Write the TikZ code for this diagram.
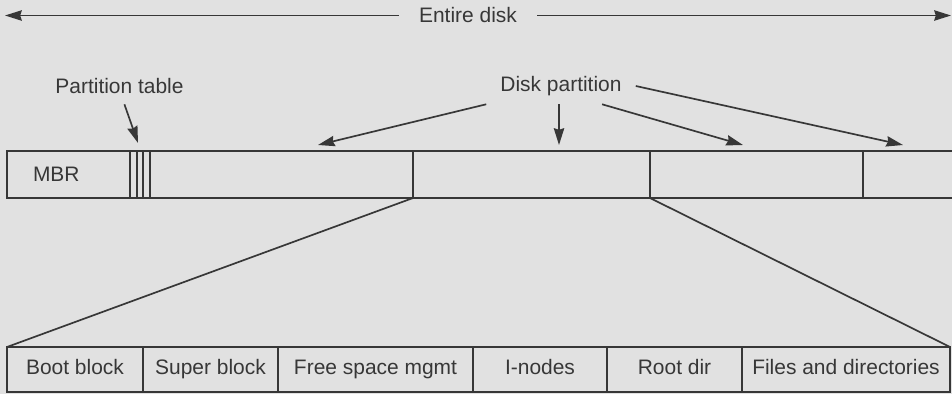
\documentclass[tikz,border=0pt]{standalone}
\usepackage{fontspec}
\setmainfont{Liberation Sans}
\usetikzlibrary{arrows.meta}
\definecolor{paper}{RGB}{225,225,225}
\definecolor{ink}{RGB}{55,55,55}

\begin{document}
\begin{tikzpicture}[
    x=0.025cm, y=-0.025cm,
    font=\fontsize{14.9}{18}\selectfont,
    color=ink,
    slot/.style={
        draw,
        line width=1.3pt,
        inner sep=0pt,
        outer sep=0pt,
        minimum width=#1*0.025cm,
        minimum height=1.175cm
    },
    block/.style={
        draw,
        line width=1.3pt,
        inner sep=0pt,
        outer sep=0pt,
        text height=0.75em,
        text depth=0em,
        minimum width=#1*0.025cm,
        minimum height=1.125cm
    },
    note/.style={inner sep=0pt, minimum height=0.9cm},
    pointer/.style={line width=1.2pt, -{Stealth[length=0.42cm,width=0.26cm,inset=0.04cm]}}
]

\fill[paper] (0,0) rectangle (952,394);
\useasboundingbox (0,0) rectangle (952,394);

% Whole disk
\node[inner xsep=0.5cm] (disk) at (468,15.5) {Entire disk};
\coordinate (diskL) at (5,15.5);
\coordinate (diskR) at (951,15.5);
\draw[pointer] (disk.west) -- (diskL);
\draw[pointer] (disk.east) -- (diskR);

% Disk bar
\node[slot=123, align=left, text width=71*0.025cm, inner xsep=0.65cm] (mbr) at (68.5,174.5) {MBR};
\foreach \i/\x in {1/133.33,2/140,3/146.67}
    \node[slot=6.67] (pt\i) at (\x,174.5) {};
\node[slot=263] (p1) at (281.5,174.5) {};
\node[slot=237] (p2) at (531.5,174.5) {};
\node[slot=213] (p3) at (756.5,174.5) {};
\node[slot=89, draw=none] (p4) at (907.5,174.5) {};
\draw[line width=1.3pt] (p4.north west) -- (p4.north east)
                        (p4.south west) -- (p4.south east);

% Labels above the bar
\node[note] (ptab) at (119.5,86) {Partition table};
\node[note, minimum width=3.725cm] (dpart) at (561,86) {Disk partition};

\coordinate (ptip) at (138,143);
\coordinate (d1) at (318,145);
\coordinate (d2) at (559,145);
\coordinate (d3) at (743,145);
\coordinate (d4) at (903,145);

\draw[pointer] (ptab.-75) -- (ptip);
\draw[pointer] (dpart.south west) -- (d1);
\draw[pointer] (dpart.south -| d2) -- (d2);
\draw[pointer] (dpart.-24) -- (d3);
\draw[pointer] (dpart.east) -- (d4);

% Partition layout
\node[block=136] (boot) at (75,369.5) {Boot block};
\node[block=135] (super) at (210.5,369.5) {Super block};
\node[block=195] (free) at (375.5,369.5) {Free space mgmt};
\node[block=134] (inodes) at (540,369.5) {I-nodes};
\node[block=135] (root) at (674.5,369.5) {Root dir};
\node[block=208] (files) at (846,369.5) {Files and directories};

\draw[line width=1.2pt] (p2.south west) -- (boot.north west);
\draw[line width=1.2pt] (p2.south east) -- (files.north east);

\end{tikzpicture}
\end{document}
